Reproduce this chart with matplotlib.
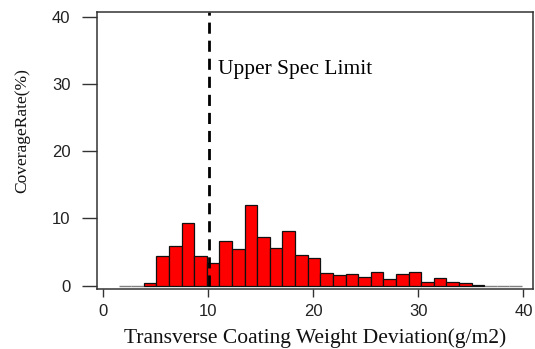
import numpy as np
import matplotlib
matplotlib.use("Agg")
import matplotlib.pyplot as plt

# histogram: bin edges start at 1.47, width 1.2
bin_start = 1.47
bin_width = 1.2
coverage = [0, 0, 0.4, 4.4, 5.9, 9.35, 4.4, 3.4, 6.6, 5.4, 12.0, 7.3, 5.6, 8.2,
            4.5, 4.1, 1.9, 1.55, 1.75, 1.25, 2.05, 0.95, 1.75, 2.05, 0.55, 1.15,
            0.6, 0.4, 0.15, 0, 0, 0]
spec_limit = 10.1
x_ticks = [0, 10, 20, 30, 40]
y_ticks = [0, 10, 20, 30, 40]

serif = "Liberation Serif"
sans = "Liberation Sans"

fig = plt.figure(figsize=(5.35, 3.49), dpi=100)
ax = fig.add_axes([0.181, 0.172, 0.815, 0.794])

lefts = bin_start + bin_width * np.arange(len(coverage))
heights = np.array(coverage)
nonzero = heights > 0
ax.bar(lefts[~nonzero], heights[~nonzero], width=bin_width, align="edge",
       color="red", edgecolor="gray", linewidth=1.0)
ax.bar(lefts[nonzero], heights[nonzero], width=bin_width, align="edge",
       color="#ff0000", edgecolor="#111111", linewidth=0.9)

ax.vlines(spec_limit, 0, 40.7, colors="black", linestyles=(0, (4, 2.5)), linewidth=2)
ax.text(10.9, 32.2, "Upper Spec Limit", family=serif, fontsize=15.5,
        va="center", ha="left")

ax.set_xlim(-0.6, 40.9)
ax.set_ylim(-0.49, 40.7)
ax.set_xticks(x_ticks)
ax.set_yticks(y_ticks)
ax.set_xticklabels([str(t) for t in x_ticks], family=sans, fontsize=12, color="#222222")
ax.set_yticklabels([str(t) for t in y_ticks], family=sans, fontsize=12, color="#222222")
ax.tick_params(axis="x", length=6, width=1, pad=5, color="#333333")
ax.tick_params(axis="y", length=11, width=1, pad=8, color="#333333")
for s in ax.spines.values():
    s.set_color("#333333")
    s.set_linewidth(1.1)

fig.text(0.589, 0.032, "Transverse Coating Weight Deviation(g/m2)", family=serif,
         fontsize=15.5, ha="center", va="center", color="#111111")
fig.text(0.041, 0.625, "CoverageRate(%)", family=serif, fontsize=12.5,
         rotation=90, ha="center", va="center", color="#111111")

fig.savefig("out.png", dpi=100)
